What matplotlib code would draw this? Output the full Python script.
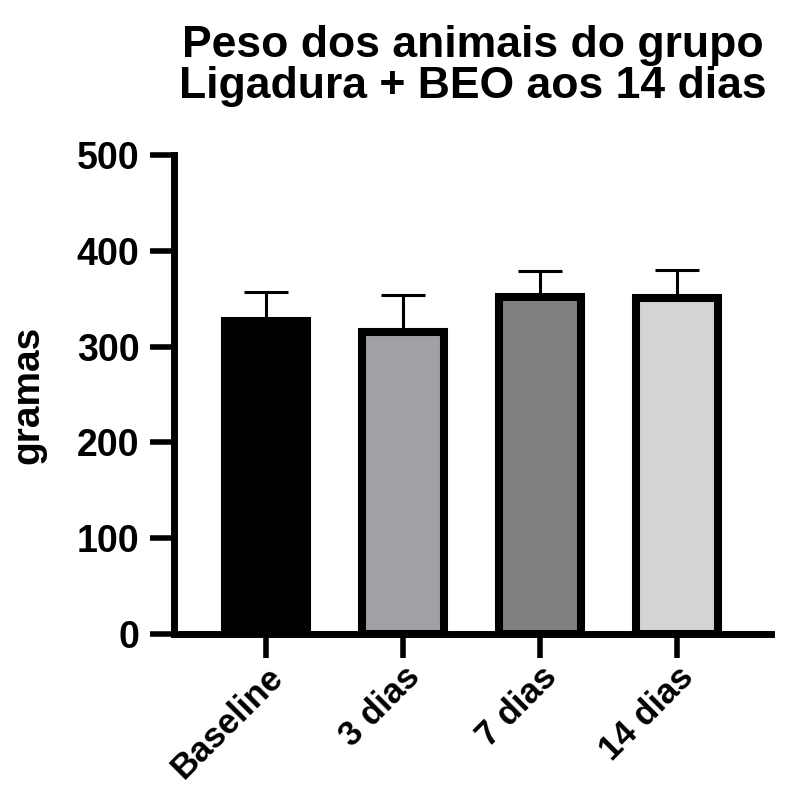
import matplotlib.pyplot as plt

plt.rcParams['font.family'] = ['Liberation Sans', 'DejaVu Sans']
plt.rcParams['font.weight'] = 'bold'

grupos = ['Baseline', '3 dias', '7 dias', '14 dias']
media = [327, 315, 352, 351]
desvio = [30, 39, 27, 29]
cores = ['#000000', '#a1a1a5', '#808080', '#d4d4d4']

fig = plt.figure(figsize=(7.99, 7.89), dpi=100)
ax = fig.add_axes([0.218, 0.1965, 0.747, 0.607])

x = range(len(grupos))
ax.errorbar(x, media, yerr=[[0] * len(media), desvio], fmt='none',
            ecolor='black', elinewidth=2.2, capsize=16, capthick=2.2, zorder=1)
ax.bar(x, media, width=0.6, color=cores, edgecolor='black', linewidth=5.8, zorder=2)

ax.set_xlim(-0.67, 3.69)
ax.set_ylim(0, 500)
ax.set_yticks([0, 100, 200, 300, 400, 500])
ax.set_xticks(list(x))
ax.set_xticklabels(grupos, rotation=45, ha='right', rotation_mode='anchor')

for lado in ['top', 'right']:
    ax.spines[lado].set_visible(False)
for lado in ['left', 'bottom']:
    ax.spines[lado].set_linewidth(5)
ax.tick_params(axis='both', direction='out', length=17, width=4, pad=8)
ax.tick_params(axis='y', labelsize=27)
ax.tick_params(axis='x', labelsize=25, pad=2)

ax.set_ylabel('gramas', fontsize=28, fontweight='bold')
ax.yaxis.set_label_coords(-0.214, 0.5)
ax.set_title('Peso dos animais do grupo\nLigadura + BEO aos 14 dias',
             fontsize=32, fontweight='bold', pad=41, linespacing=1.0)

fig.savefig('out.png', dpi=100)
